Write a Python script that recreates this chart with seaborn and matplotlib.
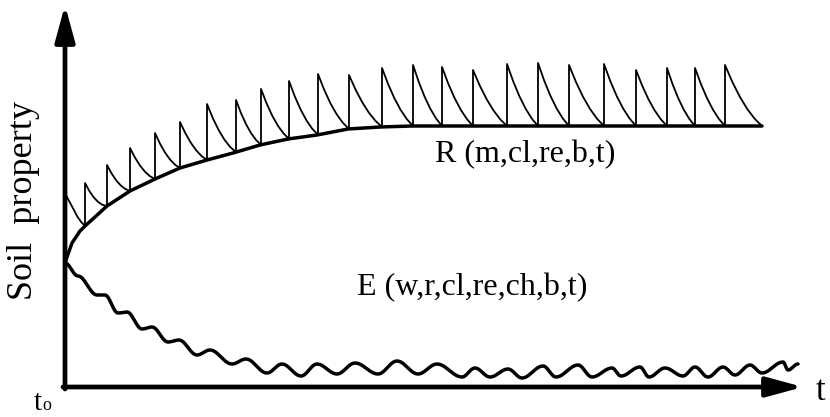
import numpy as np
import pandas as pd
import matplotlib
matplotlib.use("Agg")
import matplotlib.pyplot as plt
import seaborn as sns

# ---------- values (t = time, p = soil property) ----------
# R: smooth recovery curve
r_t = [0, 2, 7, 15, 20, 30, 42, 65, 90, 115, 142, 168, 195, 223, 252, 283,
       315, 347, 375, 697]
r_p = [124, 130, 144, 156, 161, 170, 181, 196, 208, 219, 227, 234, 242, 248,
       252, 258, 260, 261, 261, 261]

# R: sawtooth pulses (start time of each pulse and its peak)
tooth_t = [1, 20, 42, 65, 90, 115, 142, 171, 196, 224, 253, 284, 317, 348,
           377, 408, 442, 473, 504, 539, 571, 602, 630, 660]
tooth_peak = [192, 204, 222, 239, 254, 265, 283, 287, 298, 306, 313, 312, 319, 322,
              320, 317, 323, 324, 322, 323, 317, 319, 319, 322]
tooth_end = 697
# shape of one decay (fraction of interval -> fraction of height left)
decay_f = [0.0, 0.2, 0.4, 0.6, 0.8, 1.0]
decay_left = [1.0, 0.72, 0.48, 0.28, 0.12, 0.0]

# E: wavy decline, points where the wave is flat (crests / troughs)
e_t = [0, 13, 32, 40, 53, 62, 77, 87, 103, 114, 132, 145, 167, 181, 202, 217,
       236, 252, 272, 290, 313, 332, 353, 372, 397, 410, 425, 443, 457, 478,
       491, 513, 527, 547, 556, 575, 584, 600, 618, 630, 643, 658, 670, 685,
       697, 718, 723, 733]
e_p = [124, 111, 92, 92, 74, 75, 58, 60, 45, 47, 32, 37, 23, 28, 14, 23,
       11, 23, 13, 24, 13, 26, 13, 23, 10, 19, 10, 18, 9, 21,
       10, 22, 10, 19, 11, 20, 10, 19, 11, 20, 10, 20, 12, 22,
       14, 25, 17, 23]

# ---------- build line tables ----------
rows = []
for i, (t0, pk) in enumerate(zip(tooth_t, tooth_peak)):
    t1 = tooth_t[i + 1] if i + 1 < len(tooth_t) else tooth_end
    b0 = np.interp(t0, r_t, r_p)
    rows.append((i, t0, b0))
    for f, left in zip(decay_f, decay_left):
        t = t0 + f * (t1 - t0)
        rows.append((i, t, np.interp(t, r_t, r_p) + (pk - b0) * left))
teeth = pd.DataFrame(rows, columns=["tooth", "t", "p"])

# smooth the E wave between its flat points (horizontal tangents)
et, ep = [], []
for k in range(len(e_t) - 1):
    s = np.linspace(0, 1, 12, endpoint=False)
    w = (1 - np.cos(np.pi * s)) / 2
    et.extend(e_t[k] + (e_t[k + 1] - e_t[k]) * s)
    ep.extend(e_p[k] + (e_p[k + 1] - e_p[k]) * w)
et.append(e_t[-1])
ep.append(e_p[-1])
erosion = pd.DataFrame({"t": et, "p": ep})
recovery = pd.DataFrame({"t": r_t, "p": r_p})

# ---------- plot ----------
sns.set_style("white")
plt.rcParams["font.family"] = ["Liberation Serif", "DejaVu Serif"]
plt.rcParams["text.color"] = "black"
plt.rcParams["lines.solid_joinstyle"] = "round"
plt.rcParams["lines.solid_capstyle"] = "round"

fig = plt.figure(figsize=(8.3, 4.17), dpi=100)
ax = fig.add_axes([0, 0, 1, 1])

sns.lineplot(data=teeth, x="t", y="p", units="tooth", estimator=None, sort=False,
             color="black", lw=1.3, ax=ax)
sns.lineplot(data=recovery, x="t", y="p", sort=False, estimator=None,
             color="black", lw=2.5, ax=ax)
sns.lineplot(data=erosion, x="t", y="p", sort=False, estimator=None,
             color="black", lw=2.5, ax=ax)

# axes drawn as arrows
arrow = dict(arrowstyle="-|>,head_length=2.2,head_width=0.6", lw=3.4,
             color="black", shrinkA=0, shrinkB=0, mutation_scale=10)
ax.annotate("", xy=(0, 382), xytext=(0, -2), arrowprops=arrow)
ax.annotate("", xy=(738, 0), xytext=(-2, 0), arrowprops=arrow)

ax.text(370, 232, "R (m,cl,re,b,t)", fontsize=23, va="center", ha="left")
ax.text(292, 99, "E (w,r,cl,re,ch,b,t)", fontsize=23, va="center", ha="left")
ax.text(-41, 187, "Soil  property", fontsize=26, rotation=90, va="center", ha="center")
ax.text(751, -4, "t", fontsize=25, va="center", ha="left")
ax.text(-27, -23, "t", fontsize=21, va="baseline", ha="center")
ax.text(-18, -23, "o", fontsize=13, va="baseline", ha="center")

ax.set_xlim(-65, 765)
ax.set_ylim(-30, 387)
ax.axis("off")

fig.savefig("out.png", dpi=100)
